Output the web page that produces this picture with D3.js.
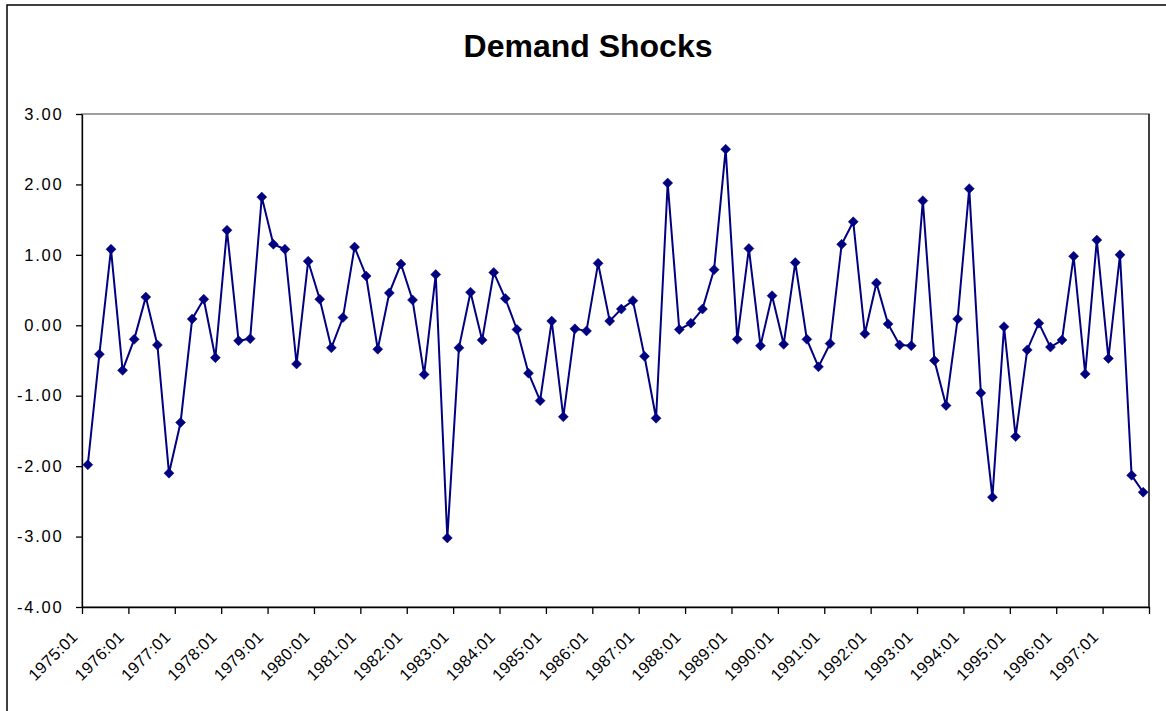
<!DOCTYPE html>
<html>
<head>
<meta charset="utf-8">
<script src="https://cdn.jsdelivr.net/npm/d3@7"></script>
<style>
  html, body { margin: 0; padding: 0; background: #fff; }
  svg { display: block; font-family: "Liberation Sans", Arial, sans-serif; }
</style>
</head>
<body>
<svg id="chart" width="1166" height="711"></svg>
<script>
const title = "Demand Shocks";
const years = ["1975","1976","1977","1978","1979","1980","1981","1982","1983","1984","1985","1986",
               "1987","1988","1989","1990","1991","1992","1993","1994","1995","1996","1997"];
const quarters = ["01","02","03","04"];
const xTickLabels = ["1975:01","1976:01","1977:01","1978:01","1979:01","1980:01","1981:01","1982:01",
                     "1983:01","1984:01","1985:01","1986:01","1987:01","1988:01","1989:01","1990:01",
                     "1991:01","1992:01","1993:01","1994:01","1995:01","1996:01","1997:01"];
const yTickValues = [-4, -3, -2, -1, 0, 1, 2, 3];
const yTickLabels = ["-4.00","-3.00","-2.00","-1.00","0.00","1.00","2.00","3.00"];
const shocks = [
  -1.98, -0.41, 1.08, -0.64, -0.20, 0.40, -0.28, -2.10,
  -1.38, 0.09, 0.37, -0.46, 1.35, -0.22, -0.19, 1.82,
  1.15, 1.08, -0.55, 0.91, 0.37, -0.32, 0.11, 1.11,
  0.70, -0.34, 0.46, 0.87, 0.36, -0.70, 0.72, -3.02,
  -0.32, 0.47, -0.21, 0.75, 0.38, -0.06, -0.68, -1.07,
  0.06, -1.30, -0.05, -0.08, 0.88, 0.06, 0.23, 0.35,
  -0.44, -1.32, 2.02, -0.06, 0.03, 0.23, 0.79, 2.50,
  -0.20, 1.09, -0.29, 0.42, -0.27, 0.89, -0.20, -0.59,
  -0.26, 1.15, 1.47, -0.12, 0.60, 0.02, -0.28, -0.29,
  1.77, -0.50, -1.14, 0.09, 1.94, -0.96, -2.44, -0.02,
  -1.58, -0.35, 0.03, -0.31, -0.21, 0.98, -0.69, 1.21,
  -0.47, 1.00, -2.13, -2.37
];

(function () {
const categories = [];
years.forEach(yr => quarters.forEach(q => categories.push(yr + ":" + q)));
const data = categories.map((c, i) => ({ c, v: shocks[i] }));

const svg = d3.select("#chart");
const pLeft = 82, pRight = 1149, pTop = 114, pBottom = 607;

// chart area border
svg.append("rect").attr("x", 7).attr("y", 5).attr("width", 1175).attr("height", 730)
  .attr("fill", "#fff").attr("stroke", "#000").attr("stroke-width", 1.5);

svg.append("text").attr("x", 588).attr("y", 57).attr("text-anchor", "middle")
  .attr("font-size", 32).attr("font-weight", "bold").attr("fill", "#000").text(title);

const x = d3.scaleBand().domain(categories).range([pLeft, pRight]).paddingInner(0).paddingOuter(0);
const xIdx = d3.scaleLinear().domain([0, categories.length]).range([pLeft, pRight]);
const y = d3.scaleLinear().domain([-4, 3]).range([pBottom, pTop]);

// plot area frame
svg.append("rect").attr("x", pLeft).attr("y", pTop).attr("width", pRight - pLeft).attr("height", pBottom - pTop)
  .attr("fill", "#fff").attr("stroke", "#808080").attr("stroke-width", 1.5);
svg.append("line").attr("x1", pRight).attr("x2", pRight).attr("y1", pTop).attr("y2", pBottom)
  .attr("stroke", "#222").attr("stroke-width", 1.5);

// y axis
const yAxis = svg.append("g").attr("transform", `translate(${pLeft},0)`)
  .call(d3.axisLeft(y).tickValues(yTickValues).tickSize(6).tickSizeOuter(0)
        .tickPadding(12.5).tickFormat((d, i) => yTickLabels[i]));
yAxis.selectAll("path, line").attr("stroke", "#000").attr("stroke-width", 1.3);
yAxis.selectAll("text").attr("font-size", 16.5).attr("fill", "#000").attr("letter-spacing", 1.8)
  .attr("font-family", "'Liberation Sans', Arial, sans-serif");

// x axis ticks at year boundaries
const xAxis = svg.append("g").attr("transform", `translate(0,${pBottom})`)
  .call(d3.axisBottom(xIdx).tickValues(d3.range(0, categories.length + 1, 4)).tickSize(7)
        .tickSizeOuter(0).tickFormat(""));
xAxis.selectAll("path, line").attr("stroke", "#000").attr("stroke-width", 1.3);

// x labels
svg.append("g").selectAll("text").data(xTickLabels).join("text")
  .attr("transform", d => {
    const cx = x(d) + x.bandwidth() / 2 - 9;
    return `translate(${cx},638) rotate(-45)`;
  })
  .attr("text-anchor", "end").attr("font-size", 16.5).attr("letter-spacing", 0.3)
  .attr("fill", "#000").text(d => d);

// line
const line = d3.line().x(d => x(d.c) + x.bandwidth() / 2).y(d => y(d.v));
svg.append("path").datum(data).attr("d", line).attr("fill", "none")
  .attr("stroke", "#000080").attr("stroke-width", 2);

// markers
svg.append("g").selectAll("path").data(data).join("path")
  .attr("transform", d => `translate(${x(d.c) + x.bandwidth() / 2},${y(d.v)})`)
  .attr("d", "M0,-5L5,0L0,5L-5,0Z").attr("fill", "#000080").attr("stroke", "#000080").attr("stroke-width", 0.5);
})();
</script>
</body>
</html>
